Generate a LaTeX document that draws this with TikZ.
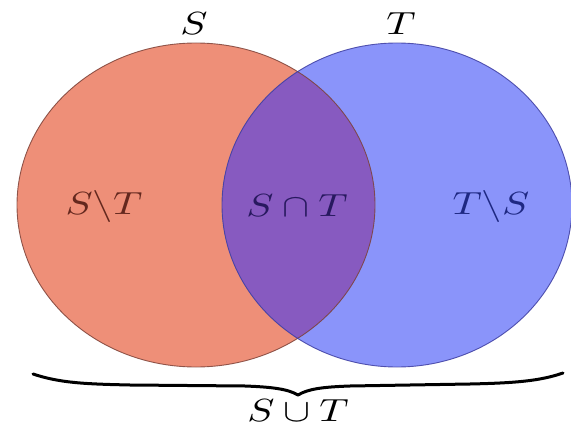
\documentclass[tikz,border=0pt]{standalone}
\definecolor{sfill}{RGB}{238,143,120}
\definecolor{tfill}{RGB}{138,148,250}
\definecolor{ifill}{RGB}{135,90,192}
\definecolor{sline}{RGB}{125,65,55}
\definecolor{tline}{RGB}{60,60,160}
\definecolor{stext}{RGB}{100,40,30}
\definecolor{itext}{RGB}{40,25,95}
\definecolor{ttext}{RGB}{30,40,130}
\tikzset{
  lbl/.style={xscale=4.05, yscale=3.2, inner sep=0pt},
  bracestyle/.style={line width=3pt, black, line cap=round, line join=round}
}
\begin{document}
\begin{tikzpicture}[x=1pt,y=-1pt]
\useasboundingbox (0,0) rectangle (571,428);
% fills
\fill[sfill] (196,205) ellipse [x radius=179, y radius=162];
\fill[tfill] (397,205) ellipse [x radius=175, y radius=162];
\begin{scope}
  \clip (196,205) ellipse [x radius=179, y radius=162];
  \fill[ifill] (397,205) ellipse [x radius=175, y radius=162];
\end{scope}
% outlines
\draw[sline, line width=0.9pt, opacity=0.85] (196,205) ellipse [x radius=179, y radius=162];
\draw[tline, line width=0.9pt, opacity=0.85] (397,205) ellipse [x radius=175, y radius=162];
% labels
\node[lbl] (s) at (194,24) {$S$};
\node[lbl] (t) at (401,24) {$T$};
\node[lbl, text=stext] (sdt) at (104,206) {$S\backslash T$};
\node[lbl, text=itext] (sit) at (297,206) {$S\cap T$};
\node[lbl, text=ttext] (tds) at (491,206) {$T\backslash S$};
% brace
\coordinate (bl) at (33,374);
\coordinate (br) at (563,373);
\coordinate (tip) at (298,395);
\draw[bracestyle] (bl) .. controls (60,383) and (85,384) .. (130,385)
  -- (245,386) .. controls (272,387) and (288,389) .. (tip)
  .. controls (308,389) and (322,387) .. (350,386)
  -- (470,384) .. controls (515,383) and (540,381) .. (br);
\node[lbl] (sut) at (298,411) {$S\cup T$};
\end{tikzpicture}
\end{document}
